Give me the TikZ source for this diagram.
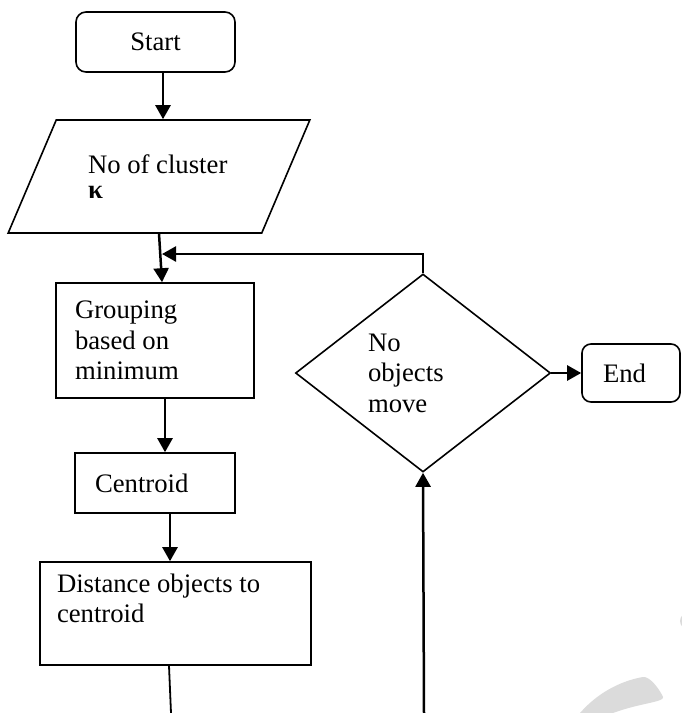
\documentclass[tikz,border=0pt]{standalone}
\usepackage{fontspec}
\setmainfont{Liberation Serif}
\usetikzlibrary{positioning}
\usetikzlibrary{calc}
\usetikzlibrary{arrows.meta}
\usetikzlibrary{shapes.geometric}

\newcommand{\flowfont}{\fontsize{26.7}{30.5}\selectfont\hyphenpenalty=10000}

\begin{document}
\begin{tikzpicture}[x=1pt, y=-1pt,
    box/.style={draw, line width=1.6pt, align=flush left, font=\flowfont},
    roundbox/.style={box, rounded corners=10pt},
    flow/.style={-{Triangle[length=14pt,width=15pt]}, line width=2.5pt},
    plain/.style={line width=1.8pt}]
    \useasboundingbox (0,0) rectangle (681,713);

    \node[roundbox, minimum width=159pt, minimum height=60pt, align=center] (start) at (155.5, 42) {Start};
    \node[box, trapezium, trapezium left angle=55.7, trapezium right angle=124.3, trapezium stretches=true, minimum width=302pt, minimum height=113pt, text width=142pt] (input) at (159, 176.5) {No of cluster\\[-5pt]{\bfseries κ}};
    \node[box, minimum width=198pt, minimum height=115pt, inner xsep=19pt, text width=160pt] (group) at (155, 340.5) {Grouping\\based on\\minimum};
    \node[box, minimum width=160pt, minimum height=60pt, inner xsep=20pt, text width=120pt] (centroid) at (155, 483) {Centroid};
    \node[box, minimum width=271pt, minimum height=103pt, inner xsep=17pt, text width=237pt] (dist) at (175.5, 613.5) {Distance objects to\\centroid\\\mbox{}};
    \node[box, diamond, aspect=1.29, minimum width=255pt, minimum height=198pt, inner sep=0pt, text width=110pt] (test) at (423, 373) {No\\objects\\move};
    \node[roundbox, rounded corners=9pt, minimum width=98pt, minimum height=58pt, inner xsep=21pt, text width=56pt] (end) at (631, 373) {End};

    \coordinate (join) at (162, 254);
    \coordinate (down) at (171, 713);
    \coordinate (up) at (424, 713);

    \draw[flow] ([xshift=7.5pt]start.south) -- ([xshift=7.5pt]start.south |- input.north);
    \draw[flow] (input.south) -- ([xshift=7pt]group.north);
    \draw[flow] ([xshift=10pt]group.south) -- ([xshift=10pt]centroid.north);
    \draw[flow] ([xshift=15pt]centroid.south) -- ([xshift=15pt]centroid.south |- dist.north);
    \draw[plain] ([xshift=-6.5pt]dist.south) -- (down);
    \draw[flow] (up) -- (test.south);
    \draw[flow] (test.east) -- (end.west);

    % loop back
    \draw[flow] (test.north) |- (join);

    \fill[black!14] (580,713) .. controls (600,690) and (625,680) .. (643,677) .. controls (650,676) and (660,690) .. (663,697) .. controls (665,702) and (640,703) .. (613,713) -- cycle;
    \fill[black!14] (688,621) circle (8);
\end{tikzpicture}
\end{document}
